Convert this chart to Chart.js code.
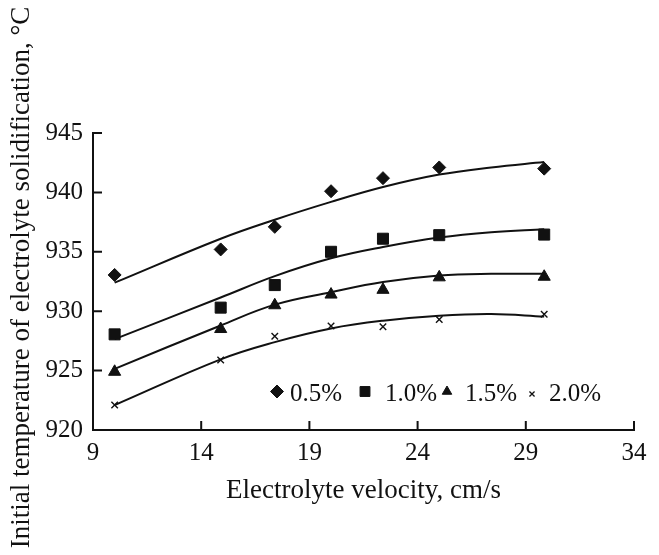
<!DOCTYPE html>
<html>
<head>
<meta charset="utf-8">
<script src="https://cdn.jsdelivr.net/npm/chart.js@4.4.1/dist/chart.umd.min.js"></script>
<style>
  html, body { margin: 0; padding: 0; background: #fff; }
</style>
</head>
<body>
<canvas id="myChart" width="659" height="555"></canvas>
<script>
// measured points (electrolyte velocity, cm/s)
var velocity = [10, 14.9, 17.4, 20, 22.4, 25, 29.85];
var temp05 = [933.05, 935.2, 937.1, 940.1, 941.2, 942.1, 942.0];
var temp10 = [928.05, 930.3, 932.2, 935.0, 936.1, 936.4, 936.45];
var temp15 = [924.9, 928.5, 930.5, 931.4, 931.8, 932.85, 932.9];
var temp20 = [922.1, 925.9, 927.9, 928.75, 928.7, 929.3, 929.75];

// trend lines
var fitVelocity = [10, 14.9, 17.4, 20, 22.4, 25, 27.4, 29.85];
var fit05 = [932.4, 936.1, 937.7, 939.2, 940.45, 941.5, 942.1, 942.55];
var fit10 = [927.65, 931.15, 932.95, 934.45, 935.4, 936.2, 936.65, 936.9];
var fit15 = [925.15, 928.8, 930.55, 931.6, 932.45, 933.0, 933.15, 933.15];
var fit20 = [922.1, 925.95, 927.4, 928.55, 929.2, 929.62, 929.76, 929.55];

var seriesLabels = ['0.5%', '1.0%', '1.5%', '2.0%'];
var xTickValues = [9, 14, 19, 24, 29, 34];
var yTickValues = [920, 925, 930, 935, 940, 945];

var ink = '#111111';
var serif = "'Liberation Serif', 'Times New Roman', serif";
var markerStyles = ['rectRot', 'rect', 'triangle', 'crossRot'];
var markerRadius = [6.5, 7.8, 7, 4.6];
var legendRadius = [6.5, 7, 5.5, 3.6];

function toPoints(xs, ys) {
  return xs.map(function(v, i) { return {x: v, y: ys[i]}; });
}

var temps = [temp05, temp10, temp15, temp20];
var fits = [fit05, fit10, fit15, fit20];
var datasets = [];
for (var i = 0; i < 4; i++) {
  datasets.push({
    label: seriesLabels[i],
    data: toPoints(velocity, temps[i]),
    showLine: false,
    pointStyle: markerStyles[i],
    pointRadius: markerRadius[i],
    pointHoverRadius: markerRadius[i],
    backgroundColor: ink,
    borderColor: ink,
    borderWidth: markerStyles[i] === 'crossRot' ? 1.4 : 1
  });
}
for (var j = 0; j < 4; j++) {
  datasets.push({
    label: 'fit ' + seriesLabels[j],
    data: toPoints(fitVelocity, fits[j]),
    showLine: true,
    pointRadius: 0,
    borderColor: ink,
    borderWidth: 2,
    fill: false,
    tension: 0.4
  });
}

// tick marks pointing into the plot
var innerTicks = {
  id: 'innerTicks',
  afterDraw: function(chart) {
    var ctx = chart.ctx, area = chart.chartArea;
    var xs = chart.scales.x, ys = chart.scales.y;
    ctx.save();
    ctx.strokeStyle = ink;
    ctx.lineWidth = 2;
    ctx.beginPath();
    xs.ticks.forEach(function(t) {
      var px = xs.getPixelForValue(t.value);
      ctx.moveTo(px, area.bottom);
      ctx.lineTo(px, area.bottom - 9);
    });
    ys.ticks.forEach(function(t) {
      var py = ys.getPixelForValue(t.value);
      ctx.moveTo(area.left, py);
      ctx.lineTo(area.left + 9, py);
    });
    ctx.stroke();
    ctx.restore();
  }
};

// long y title (scale title would be squeezed to the axis height)
var yTitle = {
  id: 'yTitle',
  afterDraw: function(chart) {
    var ctx = chart.ctx;
    ctx.save();
    ctx.translate(22, chart.height / 2);
    ctx.rotate(-Math.PI / 2);
    ctx.font = '27px ' + serif;
    ctx.fillStyle = ink;
    ctx.textAlign = 'center';
    ctx.textBaseline = 'middle';
    ctx.fillText('Initial temperature of electrolyte solidification, \u00B0C', 0, 0);
    ctx.restore();
  }
};

// legend sits inside the plot, bottom right
var legendMarkerX = [184, 272, 354, 439];
var legendTextX = [197, 292, 372, 456];
var insideLegend = {
  id: 'insideLegend',
  afterDraw: function(chart) {
    var ctx = chart.ctx, area = chart.chartArea;
    ctx.save();
    ctx.fillStyle = ink;
    ctx.strokeStyle = ink;
    ctx.font = '25px ' + serif;
    ctx.textBaseline = 'alphabetic';
    for (var k = 0; k < 4; k++) {
      var mx = area.left + legendMarkerX[k];
      var my = area.bottom - (k === 3 ? 36 : 38.5);
      ctx.lineWidth = k === 3 ? 1.3 : 1;
      Chart.helpers.drawPoint(ctx, {
        pointStyle: markerStyles[k], radius: legendRadius[k], rotation: 0, borderWidth: ctx.lineWidth
      }, mx, my);
      ctx.fillText(seriesLabels[k], area.left + legendTextX[k], area.bottom - 29);
    }
    ctx.restore();
  }
};

Chart.defaults.font.family = serif;
Chart.defaults.color = ink;

var ctx = document.getElementById('myChart');
var myChart = new Chart(ctx, {
  type: 'scatter',
  data: { datasets: datasets },
  plugins: [innerTicks, yTitle, insideLegend],
  options: {
    responsive: false,
    animation: false,
    layout: { padding: { left: 37, top: 133, right: 25, bottom: 48 } },
    plugins: {
      legend: { display: false },
      tooltip: { enabled: false }
    },
    scales: {
      x: {
        type: 'linear',
        min: 9,
        max: 34,
        afterBuildTicks: function(s) { s.ticks = xTickValues.map(function(v) { return {value: v}; }); },
        afterFit: function(s) { s.height = 77; },
        ticks: { font: { size: 25 }, color: ink, padding: 8, maxRotation: 0, autoSkip: false },
        grid: { drawOnChartArea: false, drawTicks: false },
        border: { display: true, color: ink, width: 2 },
        title: {
          display: true,
          text: 'Electrolyte velocity, cm/s',
          font: { size: 27 },
          color: ink,
          padding: { top: 0, bottom: 0 }
        }
      },
      y: {
        type: 'linear',
        min: 920,
        max: 945,
        afterBuildTicks: function(s) { s.ticks = yTickValues.map(function(v) { return {value: v}; }); },
        afterFit: function(s) { s.width = 56; },
        ticks: { font: { size: 25 }, color: ink, padding: 10 },
        grid: { drawOnChartArea: false, drawTicks: false },
        border: { display: true, color: ink, width: 2 }
      }
    }
  }
});
</script>
</body>
</html>
